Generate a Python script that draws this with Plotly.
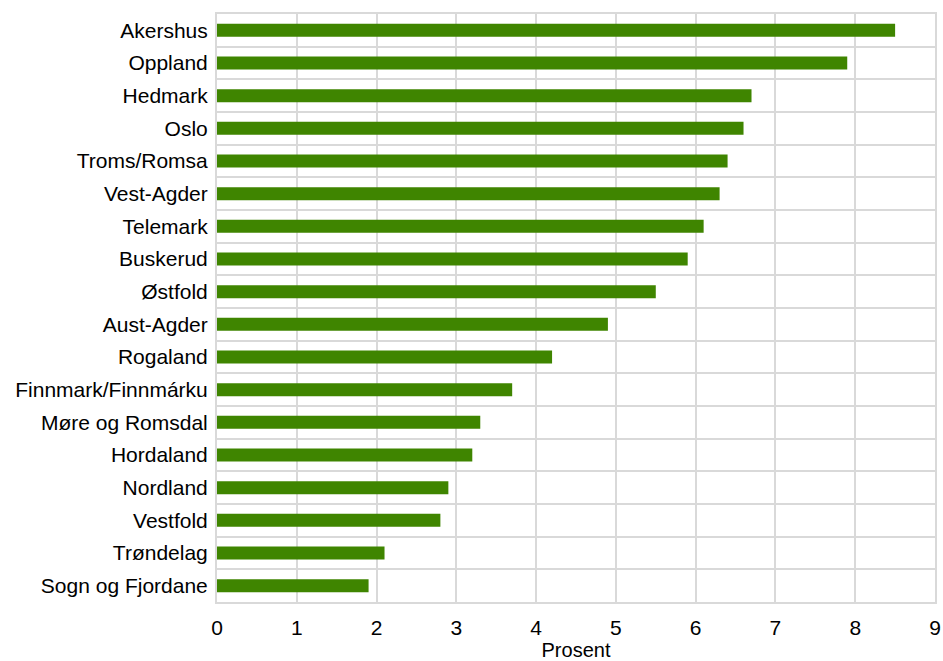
import plotly.graph_objects as go

fylker = ["Akershus", "Oppland", "Hedmark", "Oslo", "Troms/Romsa", "Vest-Agder",
          "Telemark", "Buskerud", "Østfold", "Aust-Agder", "Rogaland",
          "Finnmark/Finnmárku", "Møre og Romsdal", "Hordaland", "Nordland",
          "Vestfold", "Trøndelag", "Sogn og Fjordane"]
prosent = [8.5, 7.9, 6.7, 6.6, 6.4, 6.3, 6.1, 5.9, 5.5, 4.9, 4.2,
           3.7, 3.3, 3.2, 2.9, 2.8, 2.1, 1.9]

fig = go.Figure(go.Bar(x=prosent, y=fylker, orientation='h',
                       marker_color='#3f8500', marker_line_width=0))

grid = '#d9d9d9'
fig.update_layout(
    width=943, height=661,
    margin=dict(l=217, r=8, t=14, b=59),
    plot_bgcolor='white', paper_bgcolor='white',
    bargap=0.6, showlegend=False,
    font=dict(family='Liberation Sans, Arial, sans-serif', size=21, color='#000000'),
)
fig.update_xaxes(range=[0, 9], dtick=1, showgrid=True, gridcolor=grid, gridwidth=2,
                 showline=True, linecolor=grid, linewidth=2, mirror='all',
                 zeroline=False, ticks='', ticklabelstandoff=6, automargin=False,
                 tickfont=dict(size=21),
                 title=dict(text='Prosent', font=dict(size=20), standoff=9))
fig.update_yaxes(autorange='reversed', tickson='boundaries', showgrid=True,
                 gridcolor=grid, gridwidth=2, showline=True, linecolor=grid,
                 linewidth=2, mirror='all', ticks='', ticklabelstandoff=3,
                 automargin=False, tickfont=dict(size=21))

# drop the default 8px body margin so the figure fills the window
fig.write_html("out.html", config={'displayModeBar': False},
               post_script="document.body.style.margin='0';")
